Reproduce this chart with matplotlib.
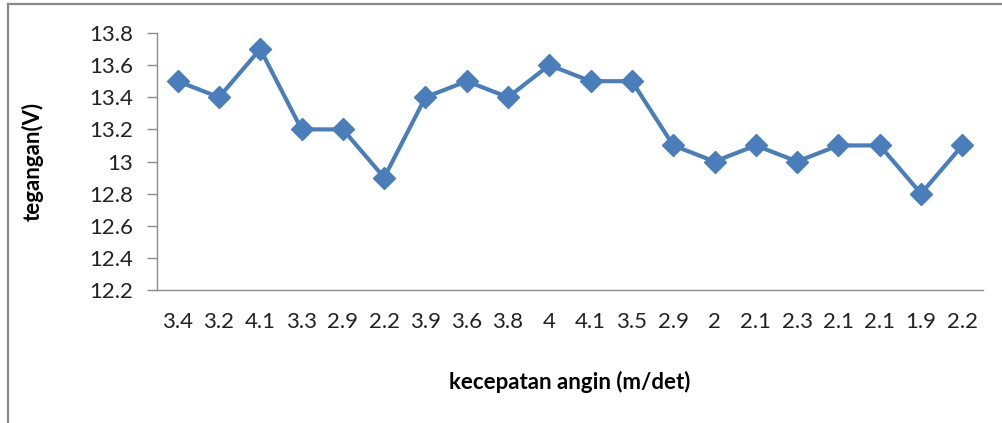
import matplotlib.pyplot as plt
from matplotlib.lines import Line2D

plt.rcParams['font.family'] = ['Lato', 'DejaVu Sans']

speed_labels = ['3.4', '3.2', '4.1', '3.3', '2.9', '2.2', '3.9', '3.6', '3.8', '4',
                '4.1', '3.5', '2.9', '2', '2.1', '2.3', '2.1', '2.1', '1.9', '2.2']
voltage = [13.5, 13.4, 13.7, 13.2, 13.2, 12.9, 13.4, 13.5, 13.4, 13.6,
           13.5, 13.5, 13.1, 13.0, 13.1, 13.0, 13.1, 13.1, 12.8, 13.1]
y_ticks = [12.2, 12.4, 12.6, 12.8, 13.0, 13.2, 13.4, 13.6, 13.8]
y_tick_labels = ['12.2', '12.4', '12.6', '12.8', '13', '13.2', '13.4', '13.6', '13.8']

W, H = 1003, 423
fig = plt.figure(figsize=(W / 100, H / 100), dpi=100)
# plot area in pixel coordinates
left, right, top, bottom = 157, 983, 33, 290
ax = fig.add_axes([left / W, 1 - bottom / H, (right - left) / W, (bottom - top) / H])

x = list(range(len(voltage)))
ax.plot(x, voltage, color='#4A7EBB', lw=3.0, marker='D', ms=11,
        markeredgecolor='#4A7EBB', clip_on=False)

ax.set_xlim(-0.5, len(voltage) - 0.5)
ax.set_ylim(12.2, 13.8)
ax.set_yticks(y_ticks)
ax.set_yticklabels(y_tick_labels)
ax.set_xticks(x)
ax.set_xticklabels(speed_labels)

for s in ['top', 'right']:
    ax.spines[s].set_visible(False)
for s in ['left', 'bottom']:
    ax.spines[s].set_color('#8C8C8C')
    ax.spines[s].set_linewidth(1.0)

ax.tick_params(axis='y', length=7, width=1, color='#8C8C8C', labelsize=16,
               labelcolor='#222222', pad=10)
ax.tick_params(axis='x', length=0, labelsize=16, labelcolor='#222222', pad=16)

ax.set_ylabel('tegangan(V)', fontsize=16, fontweight='bold', labelpad=33)
ax.set_xlabel('kecepatan angin (m/det)', fontsize=16, fontweight='bold', labelpad=28)

# chart frame (only the top and left edges fall inside the image)
fig.add_artist(Line2D([8 / W, 1], [1 - 4 / H, 1 - 4 / H], color='#8A8A8A', lw=1.6,
                      transform=fig.transFigure))
fig.add_artist(Line2D([8 / W, 8 / W], [0, 1 - 4 / H], color='#8A8A8A', lw=1.6,
                      transform=fig.transFigure))

fig.savefig('out.png', dpi=100, facecolor='white')
